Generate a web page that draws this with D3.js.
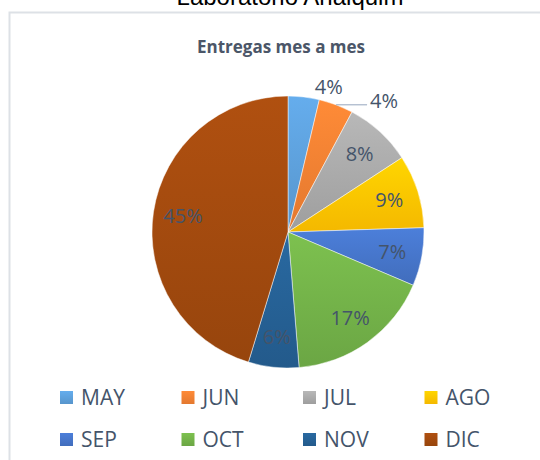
<!DOCTYPE html>
<html>
<head>
<meta charset="utf-8">
<script src="https://cdn.jsdelivr.net/npm/d3@7"></script>
<style>
  body { margin: 0; background: #fff; }
  svg { display: block; }
</style>
</head>
<body>
<svg width="540" height="460"></svg>
<script>
// data
const months = ['MAY', 'JUN', 'JUL', 'AGO', 'SEP', 'OCT', 'NOV', 'DIC'];
const shares = [3.7, 4.1, 8.0, 8.7, 6.9, 17.3, 6.0, 45.3];
const colors = ['#5B9BD5', '#ED7D31', '#A5A5A5', '#FFC000', '#4472C4', '#70AD47', '#255E91', '#9E480E'];
const outsideLabels = ['MAY', 'JUN'];

const data = months.map((m, i) => ({ month: m, value: shares[i], color: colors[i] }));

const svg = d3.select('svg');
const width = +svg.attr('width');
const height = +svg.attr('height');

const cx = 288;
const cy = 232;
const radius = 136;
const textColor = '#44546A';
const fmt = (v) => `${d3.format('.0f')(v)}%`;

// gradients, lighter on top like excel
const defs = svg.append('defs');
data.forEach((d, i) => {
  const grad = defs.append('linearGradient')
    .attr('id', `grad-${i}`)
    .attr('x1', 0).attr('y1', 0).attr('x2', 0).attr('y2', 1);
  grad.append('stop').attr('offset', '0%').attr('stop-color', d3.color(d.color).brighter(0.3));
  grad.append('stop').attr('offset', '100%').attr('stop-color', d3.color(d.color).darker(0.12));
});

// frame of the sheet
svg.append('path')
  .attr('d', `M9.5,${height} V12.5 H${width}`)
  .attr('fill', 'none')
  .attr('stroke', '#dde1e6')
  .attr('stroke-width', 2);

// sheet title, cut by the top edge as in the screenshot
svg.append('text')
  .attr('x', 290)
  .attr('y', 5)
  .attr('text-anchor', 'middle')
  .style('font-family', 'Liberation Sans, Arial, sans-serif')
  .style('font-size', '24px')
  .attr('fill', '#000')
  .text('Laboratorio Analquim');

// chart title
svg.append('text')
  .attr('x', 281)
  .attr('y', 53)
  .attr('text-anchor', 'middle')
  .style('font-family', 'Open Sans, sans-serif')
  .style('font-size', '17px')
  .style('font-weight', 'bold')
  .attr('fill', '#4b5668')
  .text('Entregas mes a mes');

const pie = d3.pie().sort(null).value((d) => d.value);
const arcs = pie(data);
const arc = d3.arc().innerRadius(0).outerRadius(radius);
const labelArc = d3.arc().innerRadius(radius * 0.78).outerRadius(radius * 0.78);
const edgeArc = d3.arc().innerRadius(radius).outerRadius(radius);

const g = svg.append('g').attr('transform', `translate(${cx},${cy})`);

g.selectAll('path.slice')
  .data(arcs)
  .enter()
  .append('path')
  .attr('class', 'slice')
  .attr('d', arc)
  .attr('fill', (d, i) => `url(#grad-${i})`)
  .attr('stroke', '#fff')
  .attr('stroke-opacity', 0.6)
  .attr('stroke-width', 0.8);

// labels inside the slices
g.selectAll('text.inside')
  .data(arcs.filter((d) => !outsideLabels.includes(d.data.month)))
  .enter()
  .append('text')
  .attr('class', 'inside')
  .attr('transform', (d) => `translate(${labelArc.centroid(d)})`)
  .attr('text-anchor', 'middle')
  .attr('dy', '0.35em')
  .style('font-family', 'Open Sans, sans-serif')
  .style('font-size', '20px')
  .attr('fill', textColor)
  .text((d) => fmt(d.data.value));

// small slices get their label outside
arcs.filter((d) => outsideLabels.includes(d.data.month)).forEach((d, k) => {
  const [ex, ey] = edgeArc.centroid(d);
  if (k === 0) {
    g.append('text')
      .attr('x', ex + 11)
      .attr('y', ey - 10)
      .attr('dy', '0.35em')
      .style('font-family', 'Open Sans, sans-serif')
      .style('font-size', '20px')
      .attr('fill', textColor)
      .text(fmt(d.data.value));
  } else {
    g.append('line')
      .attr('x1', ex).attr('y1', ey)
      .attr('x2', ex + 31).attr('y2', ey)
      .attr('stroke', '#a6b4c8')
      .attr('stroke-width', 1.2);
    g.append('text')
      .attr('x', ex + 34)
      .attr('y', ey - 4)
      .attr('dy', '0.35em')
      .style('font-family', 'Open Sans, sans-serif')
      .style('font-size', '20px')
      .attr('fill', textColor)
      .text(fmt(d.data.value));
  }
});

// legend, 4 per row
const legendX = d3.scaleBand().domain(d3.range(4)).range([60, 546]);
const legendY = d3.scaleBand().domain([0, 1]).range([377, 461]);

const legend = svg.selectAll('g.legend')
  .data(data)
  .enter()
  .append('g')
  .attr('class', 'legend')
  .attr('transform', (d, i) => `translate(${legendX(i % 4)},${legendY(Math.floor(i / 4)) + legendY.bandwidth() / 2})`);

legend.append('rect')
  .attr('x', 0)
  .attr('y', -7)
  .attr('width', 13)
  .attr('height', 13)
  .attr('fill', (d, i) => `url(#grad-${i})`);

legend.append('text')
  .attr('x', 21)
  .attr('dy', '0.35em')
  .style('font-family', 'Open Sans, sans-serif')
  .style('font-size', '21px')
  .attr('fill', textColor)
  .text((d) => d.month);
</script>
</body>
</html>
